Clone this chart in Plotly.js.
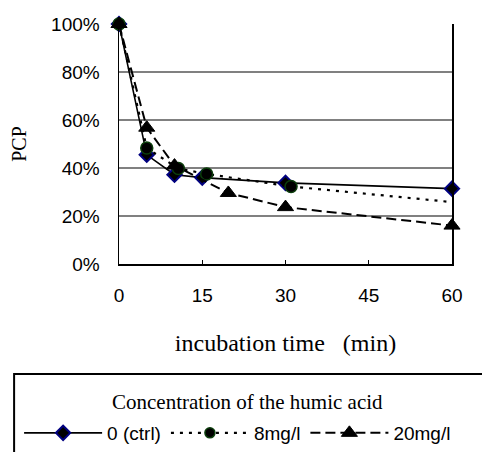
<!DOCTYPE html>
<html>
<head>
<meta charset="utf-8">
<script src="https://cdn.plot.ly/plotly-3.0.1.min.js"></script>
<style>html,body{margin:0;padding:0;background:#fff;}#chart{width:482px;height:452px;}</style>
</head>
<body>
<div id="chart"></div>
<script>
// Data
const seriesNames = ['0 (ctrl)', '8mg/l', '20mg/l'];
const timeCtrl = [0, 5, 10, 15, 30, 60];
const pcpCtrl = [1.00, 0.455, 0.372, 0.360, 0.338, 0.314];
const time8 = [0, 5, 10.7, 15.8, 31, 60];
const pcp8 = [1.00, 0.483, 0.398, 0.375, 0.323, 0.258];
const time20 = [0, 5, 10, 19.7, 30, 60];
const pcp20 = [1.00, 0.568, 0.410, 0.296, 0.237, 0.160];
const xTickVals = [0, 15, 30, 45, 60];
const yTickVals = [0, 0.2, 0.4, 0.6, 0.8, 1.0];
const legendTitle = 'Concentration of the humic acid';

const traces = [
  {
    x: timeCtrl, y: pcpCtrl, name: seriesNames[0], type: 'scatter', mode: 'lines+markers',
    line: {color: '#000', width: 1.6, dash: 'solid'},
    marker: {symbol: 'diamond', size: 11, color: '#000', opacity: 1, line: {color: '#000080', width: 2}},
    cliponaxis: false
  },
  {
    x: time8, y: pcp8, name: seriesNames[1], type: 'scatter', mode: 'lines+markers',
    line: {color: '#000', width: 2.2, dash: '3px,6px'},
    marker: {symbol: 'circle', size: time8.map((v, i) => i === time8.length - 1 ? 0 : 12), sizemode: 'diameter', color: '#000', opacity: 1, line: {color: '#0b3d0b', width: 1.5}},
    cliponaxis: false
  },
  {
    x: time20, y: pcp20, name: seriesNames[2], type: 'scatter', mode: 'lines+markers',
    line: {color: '#000', width: 2, dash: '10px,5px'},
    marker: {symbol: 'triangle-up', size: 14, color: '#000', opacity: 1, line: {color: '#000', width: 1}},
    cliponaxis: false
  }
];

const layout = {
  width: 482, height: 452,
  margin: {l: 119, r: 30, t: 24, b: 188, autoexpand: false},
  paper_bgcolor: '#fff', plot_bgcolor: '#fff',
  font: {family: 'Liberation Sans, Arial, sans-serif', color: '#000', size: 18},
  showlegend: true,
  xaxis: {
    range: [0, 60], tickvals: xTickVals, ticktext: xTickVals.map(String),
    showgrid: false, zeroline: false,
    showline: true, linecolor: '#000', linewidth: 1.5,
    ticks: 'inside', ticklen: 4, tickcolor: '#000',
    tickfont: {family: 'Liberation Sans, Arial, sans-serif', size: 19, color: '#000'},
    ticklabelstandoff: 14,
    title: {text: 'incubation time&nbsp;&nbsp;&nbsp;(min)', font: {family: 'Liberation Serif, Times New Roman, serif', size: 24, color: '#000'}, standoff: 29}
  },
  yaxis: {
    range: [0, 1], tickvals: yTickVals, tickformat: '.0%',
    showgrid: true, gridcolor: '#808080', gridwidth: 1.2,
    zeroline: false,
    showline: true, linecolor: '#000', linewidth: 1.5, mirror: true,
    ticks: '',
    tickfont: {family: 'Liberation Sans, Arial, sans-serif', size: 19, color: '#000'},
    ticklabelstandoff: 14,
    title: {text: 'PCP', font: {family: 'Liberation Serif, Times New Roman, serif', size: 20, color: '#000'}, standoff: 19}
  },
  legend: {
    orientation: 'h',
    x: -0.3, xanchor: 'left', y: -0.625, yanchor: 'top',
    bgcolor: 'rgba(0,0,0,0)', borderwidth: 0,
    itemwidth: 78,
    font: {family: 'Liberation Sans, Arial, sans-serif', size: 19, color: '#000'}
  },
  annotations: [
    {text: legendTitle, xref: 'paper', yref: 'paper', x: 0.387, y: -0.575, xanchor: 'center', yanchor: 'middle', showarrow: false,
     font: {family: 'Liberation Serif, Times New Roman, serif', size: 21, color: '#000'}}
  ],
  shapes: [
    {type: 'rect', xref: 'paper', yref: 'paper', x0: -0.315, x1: 1.3, y0: -0.458, y1: -1.2, line: {color: '#000', width: 2}, fillcolor: 'rgba(0,0,0,0)', layer: 'below'}
  ]
};

Plotly.newPlot('chart', traces, layout, {displayModeBar: false, staticPlot: true});
</script>
</body>
</html>
